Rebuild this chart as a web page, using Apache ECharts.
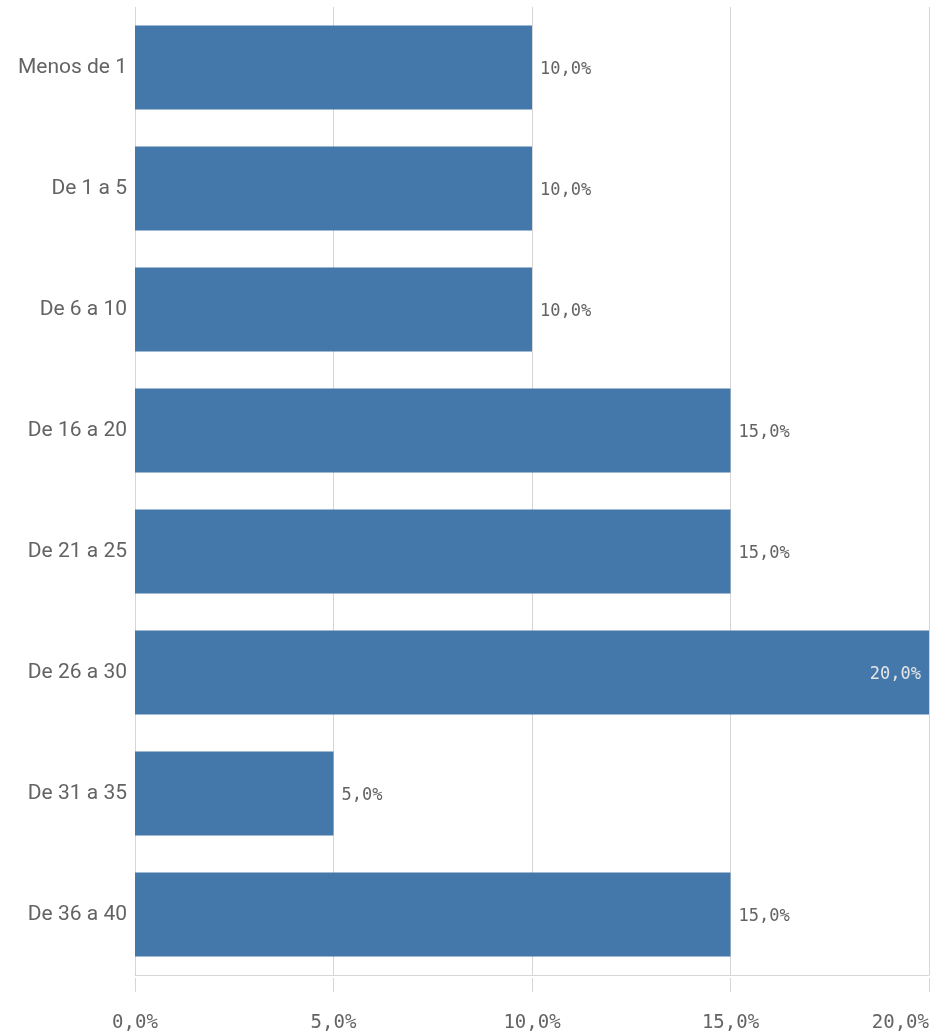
<!DOCTYPE html>
<html>
<head>
<meta charset="utf-8">
<script src="https://cdn.jsdelivr.net/npm/echarts@6/dist/echarts.min.js"></script>
<style>html,body{margin:0;padding:0;background:#fff}#c{width:950px;height:1036px}</style>
</head>
<body>
<div id="c"></div>
<script>
const categories = ["Menos de 1", "De 1 a 5", "De 6 a 10", "De 16 a 20", "De 21 a 25", "De 26 a 30", "De 31 a 35", "De 36 a 40"];
const values = [10, 10, 10, 15, 15, 20, 5, 15];
const tickValues = [0, 5, 10, 15, 20];

const fmt = v => v.toFixed(1).replace('.', ',') + '%';
const mono = '"DejaVu Sans Mono", "Liberation Mono", monospace';
const gray = '#636363';
const lineCol = '#d6d6d6';

const chart = echarts.init(document.getElementById('c'), null, {renderer: 'canvas'});
chart.setOption({
  animation: false,
  grid: {left: 135, right: 21, top: 7, bottom: 61},
  xAxis: [{
    type: 'value', min: 0, max: 20, interval: 5, position: 'bottom',
    axisLine: {show: true, lineStyle: {color: lineCol, width: 1}},
    axisTick: {show: false},
    axisLabel: {show: false},
    splitLine: {show: true, lineStyle: {color: lineCol, width: 1}}
  }, {
    type: 'value', min: 0, max: 20, interval: 5, position: 'bottom', offset: 3,
    axisLine: {show: false},
    axisTick: {show: true, length: 14, lineStyle: {color: lineCol, width: 1}},
    axisLabel: {show: true, margin: 36, color: gray, fontFamily: mono, fontSize: 19,
      formatter: v => tickValues.includes(v) ? fmt(v) : '',
      alignMinLabel: 'center', alignMaxLabel: 'right'},
    splitLine: {show: false}
  }],
  yAxis: {
    type: 'category', data: categories, inverse: true,
    axisLine: {show: false}, axisTick: {show: false},
    axisLabel: {margin: 8, color: gray, fontSize: 21, fontFamily: 'Roboto, "Noto Sans", sans-serif'},
    splitLine: {show: false}
  },
  series: [{
    type: 'bar', xAxisIndex: 0,
    data: values.map(v => v === 20 ? {value: v, label: {position: 'insideRight', color: '#e6e6e6', distance: 8}} : v),
    barWidth: 84,
    itemStyle: {color: '#4477aa'},
    label: {show: true, position: 'right', distance: 8, offset: [0, 2], color: gray, fontFamily: mono, fontSize: 17,
      formatter: p => fmt(p.value)}
  }]
});
</script>
</body>
</html>
